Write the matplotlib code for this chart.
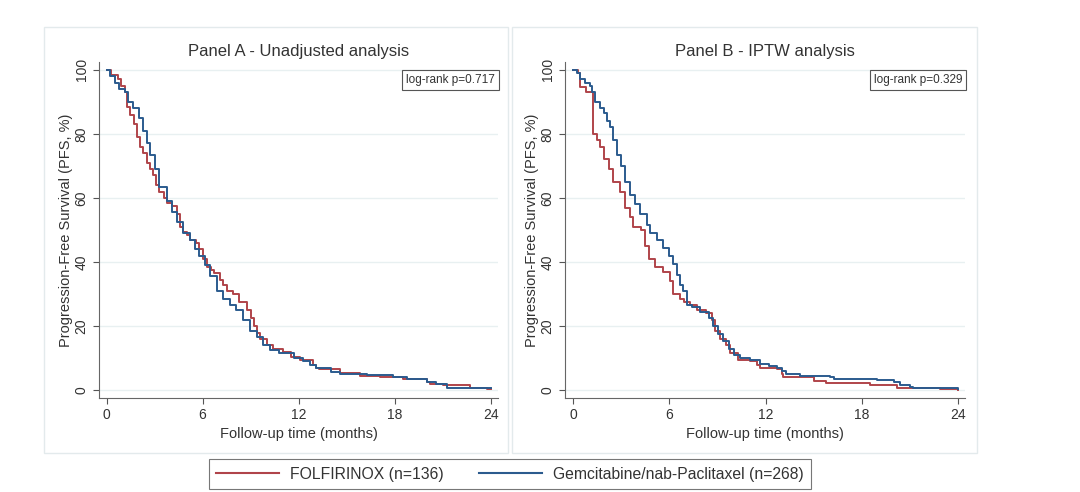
import matplotlib
matplotlib.use("Agg")
import matplotlib.pyplot as plt
from matplotlib.patches import Rectangle
from matplotlib.lines import Line2D

plt.rcParams['font.family'] = ['Liberation Sans', 'DejaVu Sans']

# Panel A - unadjusted KM estimates (months, % progression-free)
a_folf_t = [0, 0.3, 0.7, 0.9, 1.15, 1.3, 1.45, 1.7, 1.9, 2.1, 2.3, 2.5, 2.7, 2.9, 3.1, 3.3,
            3.6, 3.8, 4.06, 4.4, 4.6, 4.8, 5.0, 5.2, 5.6, 5.8, 6.0, 6.25, 6.5, 6.7, 7.1, 7.3,
            7.5, 7.9, 8.3, 8.75, 9.0, 9.2, 9.4, 9.6, 10.0, 10.4, 11.0, 11.5, 12.1, 12.9, 13.1,
            13.3, 14.6, 15.8, 17.1, 18.5, 20.0, 20.2, 21.0, 22.7, 23.75, 24.0]
a_folf_s = [100, 98.5, 97, 95, 93, 88.5, 86, 83, 79, 76, 74, 71, 69, 67, 64, 62,
            60, 58.5, 57.5, 55, 51, 49.5, 48.5, 47, 46, 44, 41, 38.5, 37.5, 36.5, 34.5, 33,
            31, 30, 27.5, 25, 22.5, 20, 18, 16, 14, 13, 12, 10.5, 9.5, 8, 7,
            6.5, 5.5, 4.5, 4.2, 3.5, 2.5, 2, 1.5, 0.8, 0.5, 0.3]
a_gem_t = [0, 0.2, 0.5, 0.8, 1.15, 1.35, 1.65, 2.0, 2.3, 2.5, 2.7, 3.0, 3.3, 3.75, 4.06, 4.4,
           4.8, 5.2, 5.5, 5.8, 6.15, 6.45, 6.9, 7.3, 7.7, 8.1, 8.5, 8.95, 9.4, 9.8, 10.2,
           10.8, 11.7, 12.3, 12.7, 13.1, 14.0, 14.6, 16.25, 17.9, 18.75, 20.0, 20.6, 21.25, 24.0]
a_gem_s = [100, 98, 96, 94, 93, 90, 88, 85, 81, 77, 73.5, 69, 63.5, 59, 55.5, 52.5,
           49, 47, 44, 42, 39, 35.5, 31, 28.5, 26.5, 25, 22, 18.5, 16.5, 14, 12.5,
           11.5, 10, 9, 8, 7, 5.8, 5.2, 4.7, 4.2, 3.5, 2.5, 2, 0.8, 0.8]

# Panel B - IPTW weighted KM estimates
b_folf_t = [0, 0.3, 0.4, 0.8, 1.2, 1.5, 1.65, 1.9, 2.2, 2.5, 2.9, 3.2, 3.55, 3.75, 4.25,
            4.5, 4.7, 5.1, 5.6, 6.05, 6.25, 6.65, 6.9, 7.3, 7.7, 8.3, 8.65, 8.85, 9.15, 9.5,
            9.8, 10.3, 11.0, 11.45, 11.65, 12.7, 13.0, 13.1, 14.4, 15.0, 15.8, 18.5, 20.2,
            22.9, 24.0]
b_folf_s = [100, 99, 94.5, 93, 80, 78, 76, 72, 69, 65, 62, 57, 54, 51, 50,
            45, 41, 38.5, 37, 34, 30, 28.5, 27.5, 26.5, 25, 24, 22, 18.5, 16, 14,
            11.5, 9.5, 9, 8, 7, 6.7, 5, 4.2, 4, 3, 2.2, 1.8, 0.8,
            0.3, 0.2]
b_gem_t = [0, 0.2, 0.4, 0.75, 1.05, 1.15, 1.35, 1.65, 1.9, 2.1, 2.3, 2.5, 2.7, 3.0, 3.25,
           3.55, 3.85, 4.15, 4.6, 4.8, 5.2, 5.6, 5.95, 6.25, 6.45, 6.65, 6.85, 7.1, 7.4, 7.9,
           8.45, 8.75, 9.05, 9.35, 9.7, 10.0, 10.4, 11.0, 11.65, 12.2, 12.7, 13.0, 13.3,
           14.15, 16.0, 16.25, 18.95, 20.0, 20.4, 21.0, 21.2, 24.0]
b_gem_s = [100, 99, 97, 96, 95, 93, 90, 88, 86.5, 84, 82, 78, 73.5, 70, 65,
           61, 58, 55, 51.5, 49, 47, 44.5, 42, 39.5, 36, 33, 31, 26.5, 26, 24.5,
           22.5, 20, 17.5, 15.5, 13, 11, 10, 9.5, 8.2, 7.5, 7, 6, 5.2,
           4.5, 4.2, 3.5, 3.2, 2.5, 1.6, 1.0, 0.6, 0.5]

titles = ["Panel A - Unadjusted analysis", "Panel B - IPTW analysis"]
pvals = ["log-rank p=0.717", "log-rank p=0.329"]
labels = ["FOLFIRINOX (n=136)", "Gemcitabine/nab-Paclitaxel (n=268)"]
xticks = [0, 6, 12, 18, 24]
yticks = [0, 20, 40, 60, 80, 100]

RED = '#b0444a'
BLUE = '#2b5b8e'
TXT = '#333333'

fig = plt.figure(figsize=(10.8, 4.92), dpi=100)

# light panel frames (stata graph region)
for x0, w in [(44 / 1080, 464 / 1080), (512 / 1080, 465 / 1080)]:
    fig.patches.append(Rectangle((x0, 1 - 453 / 492), w, 426 / 492, transform=fig.transFigure,
                                 fill=False, ec='#e3eaec', lw=1.0))

axA = fig.add_axes([99 / 1080, 1 - 398 / 492, 399 / 1080, 336 / 492])
axB = fig.add_axes([565 / 1080, 1 - 398 / 492, 400 / 1080, 336 / 492])

curves = [((a_folf_t, a_folf_s), (a_gem_t, a_gem_s)),
          ((b_folf_t, b_folf_s), (b_gem_t, b_gem_s))]

for ax, (folf, gem), title, pv, x0 in zip([axA, axB], curves, titles, pvals, [-0.47, -0.52]):
    ax.plot(folf[0], folf[1], drawstyle='steps-post', color=RED, lw=1.4)
    ax.plot(gem[0], gem[1], drawstyle='steps-post', color=BLUE, lw=1.4)
    ax.set_xlim(x0, 24.45)
    ax.set_ylim(-2.4, 102.4)
    ax.set_xticks(xticks)
    ax.set_yticks(yticks)
    ax.set_yticklabels([str(v) for v in yticks], rotation=90, va='center')
    ax.tick_params(colors='#555555', labelcolor=TXT, labelsize=10, length=4, width=0.8)
    ax.grid(axis='y', color='#e8f0f1', lw=1.0)
    ax.set_axisbelow(True)
    for s in ['top', 'right']:
        ax.spines[s].set_visible(False)
    for s in ['left', 'bottom']:
        ax.spines[s].set_color('#666666')
        ax.spines[s].set_linewidth(0.8)
    ax.set_xlabel("Follow-up time (months)", fontsize=10.5, color=TXT, labelpad=3)
    ax.set_ylabel("Progression-Free Survival (PFS, %)", fontsize=10.5, color=TXT, labelpad=1)
    ax.set_title(title, fontsize=12, color=TXT, pad=4)
    ax.text(0.993, 0.965, pv, transform=ax.transAxes, ha='right', va='top', fontsize=8.5,
            color=TXT, bbox=dict(boxstyle='square,pad=0.35', fc='white', ec='#555555', lw=0.8))

handles = [Line2D([], [], color=RED, lw=1.5), Line2D([], [], color=BLUE, lw=1.5)]
leg = fig.legend(handles, labels, loc='center', bbox_to_anchor=(0.472, 1 - 474 / 492), ncol=2,
                 fontsize=11.3, frameon=True, fancybox=False, edgecolor='#555555',
                 handlelength=4.0, handletextpad=0.7, columnspacing=2.3, borderpad=0.45,
                 borderaxespad=0.0)
leg.get_frame().set_linewidth(0.8)
for t in leg.get_texts():
    t.set_color(TXT)

fig.savefig("out.png", dpi=100, facecolor='white')
